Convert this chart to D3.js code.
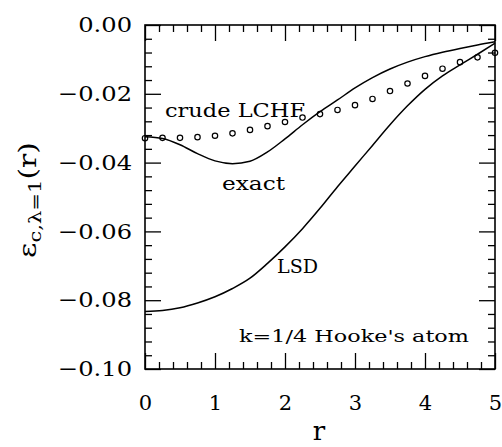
<!DOCTYPE html>
<html><head><meta charset="utf-8">
<script src="https://cdn.jsdelivr.net/npm/d3@7"></script>
<style>body{margin:0;background:#fff}svg{display:block}</style>
</head><body>
<script>
// r grid (shared by all series)
const rGrid = [0, 0.25, 0.5, 0.75, 1.0, 1.25, 1.5, 1.75, 2.0, 2.25, 2.5, 2.75, 3.0, 3.25, 3.5, 3.75, 4.0, 4.25, 4.5, 4.75, 5.0];
// exact correlation energy density (solid)
const epsExact = [-0.0325, -0.0330, -0.0348, -0.0374, -0.0395, -0.0403, -0.0396, -0.0369, -0.0331, -0.0290, -0.0252, -0.0218, -0.0183, -0.0153, -0.0128, -0.0108, -0.0092, -0.0079, -0.0068, -0.0058, -0.0049];
// LSD (solid)
const epsLSD = [-0.0833, -0.0830, -0.0822, -0.0808, -0.0790, -0.0766, -0.0736, -0.0693, -0.0645, -0.0592, -0.0533, -0.0470, -0.0410, -0.0350, -0.0290, -0.0235, -0.0187, -0.0148, -0.0116, -0.0085, -0.0053];
// crude LCHF (open circles)
const epsLCHF = [-0.0329, -0.0328, -0.0328, -0.0326, -0.0322, -0.0315, -0.0305, -0.0294, -0.0282, -0.0269, -0.0259, -0.0247, -0.0233, -0.0215, -0.0192, -0.0170, -0.0148, -0.0127, -0.0108, -0.0094, -0.0081];

const xMajor = [0, 1, 2, 3, 4, 5];
const yMajor = [0, -0.02, -0.04, -0.06, -0.08, -0.10];

const W = 502, H = 447;
const L = 145, R = 495, T = 25, B = 369;
const FONT = "'DejaVu Serif', serif";

const svg = d3.select("body").append("svg").attr("width", W).attr("height", H);

const x = d3.scaleLinear().domain([0, 5]).range([L, R]);
const y = d3.scaleLinear().domain([-0.10, 0]).range([B, T]);

const xMinor = d3.range(0, 5.0001, 0.2).filter(v => Math.abs(v - Math.round(v)) > 1e-6);
const yMinor = d3.range(-0.10, 0.0001, 0.004).filter(v => Math.abs(v / 0.02 - Math.round(v / 0.02)) > 1e-6);

function styleAxis(g) {
  g.select(".domain").remove();
  g.selectAll(".tick line").attr("stroke", "#000").attr("stroke-width", 1.3);
}

// minor ticks on all sides
svg.append("g").attr("transform", `translate(0,${B})`)
  .call(d3.axisBottom(x).tickValues(xMinor).tickSize(-7).tickFormat("")).call(styleAxis);
svg.append("g").attr("transform", `translate(0,${T})`)
  .call(d3.axisTop(x).tickValues(xMinor).tickSize(-7).tickFormat("")).call(styleAxis);
svg.append("g").attr("transform", `translate(${L},0)`)
  .call(d3.axisLeft(y).tickValues(yMinor).tickSize(-7).tickFormat("")).call(styleAxis);
svg.append("g").attr("transform", `translate(${R},0)`)
  .call(d3.axisRight(y).tickValues(yMinor).tickSize(-7).tickFormat("")).call(styleAxis);

// major ticks
const gx = svg.append("g").attr("transform", `translate(0,${B})`)
  .call(d3.axisBottom(x).tickValues(xMajor).tickSize(-16).tickPadding(26).tickFormat(d3.format("d"))).call(styleAxis);
svg.append("g").attr("transform", `translate(0,${T})`)
  .call(d3.axisTop(x).tickValues(xMajor).tickSize(-16).tickFormat("")).call(styleAxis);
const gy = svg.append("g").attr("transform", `translate(${L},0)`)
  .call(d3.axisLeft(y).tickValues(yMajor).tickSize(-16).tickPadding(13).tickFormat(d3.format(".2f"))).call(styleAxis);
svg.append("g").attr("transform", `translate(${R},0)`)
  .call(d3.axisRight(y).tickValues(yMajor).tickSize(-16).tickFormat("")).call(styleAxis);

[gx, gy].forEach(g => g.selectAll("text").attr("font-family", FONT).attr("font-size", 21).attr("fill", "#000"));
gy.selectAll("text").each(function () {
  const len = this.getComputedTextLength();
  d3.select(this).attr("textLength", len * 1.15).attr("lengthAdjust", "spacingAndGlyphs");
});

// frame
svg.append("rect").attr("x", L).attr("y", T).attr("width", R - L).attr("height", B - T)
  .attr("fill", "none").attr("stroke", "#000").attr("stroke-width", 1.6);

const line = (vals) => d3.line().x((d, i) => x(rGrid[i])).y(d => y(d)).curve(d3.curveMonotoneX)(vals);

svg.append("path").attr("d", line(epsExact)).attr("fill", "none").attr("stroke", "#000").attr("stroke-width", 1.5);
svg.append("path").attr("d", line(epsLSD)).attr("fill", "none").attr("stroke", "#000").attr("stroke-width", 1.5);

svg.append("g").selectAll("circle").data(epsLCHF).join("circle")
  .attr("cx", (d, i) => x(rGrid[i])).attr("cy", d => y(d)).attr("r", 2.7)
  .attr("fill", "none").attr("stroke", "#000").attr("stroke-width", 1.2);

// annotations
function label(txt, x0, yb, size, len) {
  svg.append("text").attr("x", x0).attr("y", yb).attr("font-family", FONT).attr("font-size", size)
    .attr("textLength", len).attr("lengthAdjust", "spacingAndGlyphs").text(txt);
}
label("crude LCHF", 165, 117, 18, 140);
label("exact", 222, 190, 18, 63);
label("LSD", 277, 273, 18, 41);
label("k=1/4 Hooke's atom", 239, 342, 17, 230);

// axis titles
svg.append("text").attr("x", 319).attr("y", 440).attr("text-anchor", "middle")
  .attr("font-family", FONT).attr("font-size", 26).text("r");

const yl = svg.append("text").attr("transform", "translate(36,200) rotate(-90)")
  .attr("text-anchor", "middle").attr("font-family", FONT).attr("font-size", 24)
  .attr("textLength", 116).attr("lengthAdjust", "spacingAndGlyphs");
yl.append("tspan").text("ε");
yl.append("tspan").attr("font-size", 17).attr("dy", 5).text("c,λ=1");
yl.append("tspan").attr("dy", -5).text("(r)");
</script>
</body></html>
